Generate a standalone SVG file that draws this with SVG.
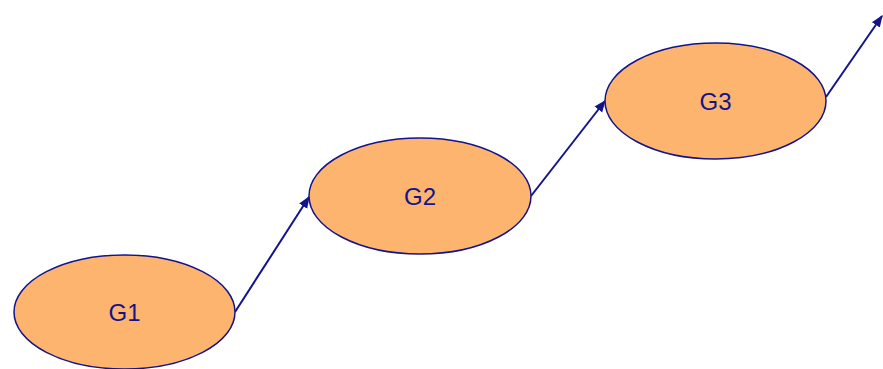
<svg xmlns="http://www.w3.org/2000/svg" width="883" height="369" viewBox="0 0 883 369">
<style>
.node ellipse{fill:#FDB46F;stroke:#13138C;stroke-width:1.5}
.node text{font-family:"Liberation Sans",Arial,sans-serif;font-size:24px;fill:#13138C;text-anchor:middle}
.edge{stroke:#13138C;stroke-width:2;fill:none;marker-end:url(#arr)}
</style>
<defs>
<marker id="arr" viewBox="0 0 10 10" refX="9" refY="5" markerWidth="6" markerHeight="6" markerUnits="strokeWidth" orient="auto">
<path d="M0,1 L10,5 L0,9 Z" fill="#13138C"/>
</marker>
</defs>
<rect width="883" height="369" fill="#fff"/>
<g id="edges">
<line class="edge" x1="235" y1="312" x2="309" y2="197"/>
<line class="edge" x1="531" y1="196" x2="605" y2="101"/>
<line class="edge" x1="826" y1="97" x2="882" y2="16"/>
</g>
<g id="G1" class="node"><ellipse cx="124.5" cy="312" rx="110.5" ry="57"/><text x="124.5" y="321">G1</text></g>
<g id="G2" class="node"><ellipse cx="420" cy="196" rx="111" ry="58"/><text x="420" y="205">G2</text></g>
<g id="G3" class="node"><ellipse cx="715.5" cy="101" rx="110.5" ry="58"/><text x="715.5" y="110">G3</text></g>
</svg>
